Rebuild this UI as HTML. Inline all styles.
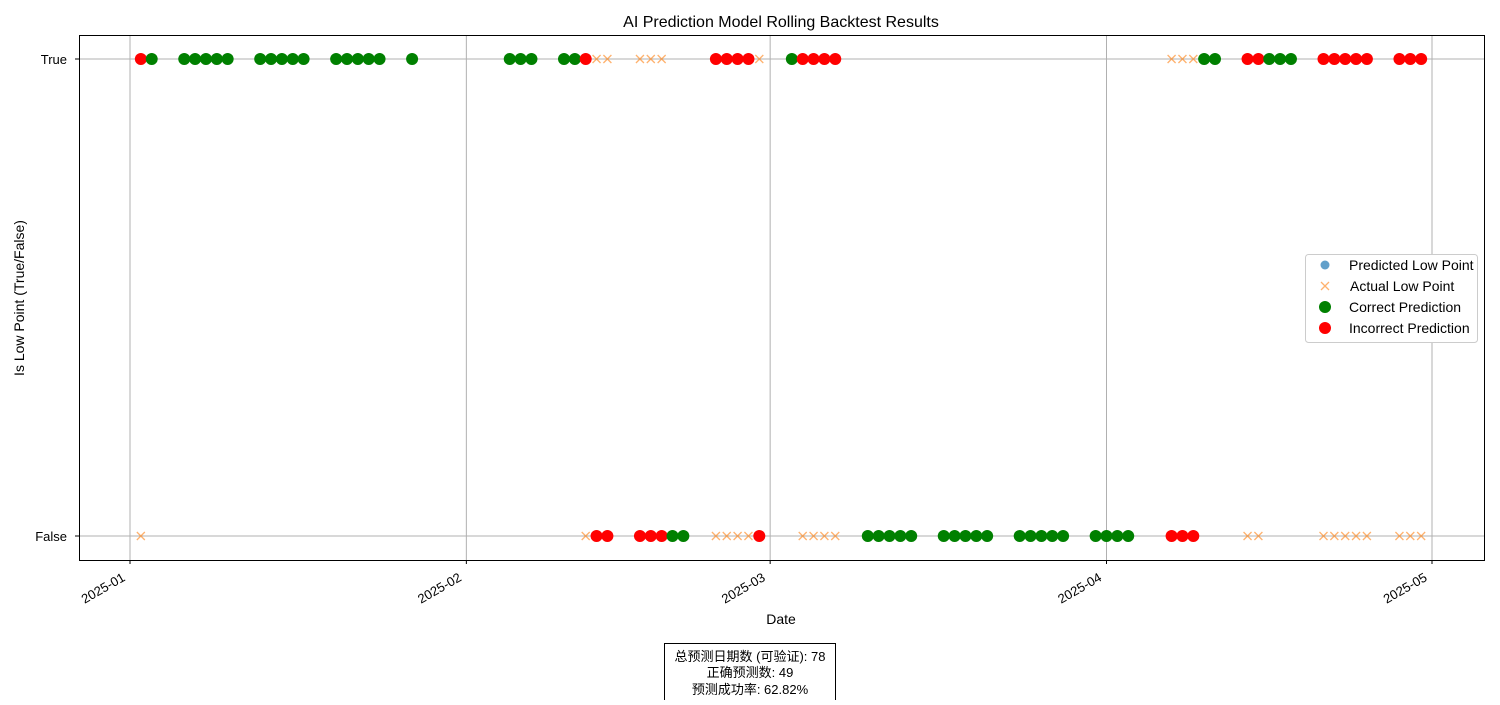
<!DOCTYPE html>
<html><head><meta charset="utf-8"><style>
body{margin:0;background:#fff;}
svg text{font-family:"Liberation Sans","Noto Sans CJK SC",sans-serif;}
</style></head><body>
<svg id="c" width="1500" height="700" xmlns="http://www.w3.org/2000/svg">
<rect width="1500" height="700" fill="#fff"/>
<text x="781" y="27" font-size="16" text-anchor="middle">AI Prediction Model Rolling Backtest Results</text>
<g id="grid"></g>
<g id="marks"></g>
<rect x="79.5" y="35.5" width="1405" height="525" fill="none" stroke="#000" stroke-width="1"/>
<g id="axes"></g>
<text x="781" y="624" font-size="14" text-anchor="middle">Date</text>
<text transform="translate(24,298) rotate(-90)" font-size="14" text-anchor="middle">Is Low Point (True/False)</text>
<g>
<rect x="1305.5" y="254.5" width="172" height="88" rx="3" fill="#fff" stroke="#ccc"/>
<g><circle cx="1325" cy="265" r="4.5" fill="#1f77b4" fill-opacity="0.7"/><text x="1349" y="270" font-size="14">Predicted Low Point</text></g>
<g><path d="M1321 282l8 8M1329 282l-8 8" stroke="#ff7f0e" stroke-opacity="0.6" stroke-width="1.3"/><text x="1350" y="291" font-size="14">Actual Low Point</text></g>
<g><circle cx="1325" cy="307" r="6" fill="green"/><text x="1349" y="312" font-size="14">Correct Prediction</text></g>
<g><circle cx="1325" cy="328" r="6" fill="red"/><text x="1349" y="333" font-size="14">Incorrect Prediction</text></g>
</g>
<g>
<rect x="664.5" y="643.5" width="171" height="62" fill="#fff" stroke="#000"/>
<text x="750" y="661" font-size="13" text-anchor="middle">总预测日期数 (可验证): 78</text>
<text x="750" y="677" font-size="13" text-anchor="middle">正确预测数: 49</text>
<text x="750" y="694" font-size="13" text-anchor="middle">预测成功率: 62.82%</text>
</g>
</svg>
<script>
// day offsets from 2025-01-01
const days=[1,2,5,6,7,8,9,12,13,14,15,16,19,20,21,22,23,26,35,36,37,40,41,42,43,44,47,48,49,50,51,54,55,56,57,58,61,62,63,64,65,68,69,70,71,72,75,76,77,78,79,82,83,84,85,86,89,90,91,92,96,97,98,99,100,103,104,105,106,107,110,111,112,113,114,117,118,119];
const predicted=[1,1,1,1,1,1,1,1,1,1,1,1,1,1,1,1,1,1,1,1,1,1,1,1,0,0,0,0,0,0,0,1,1,1,1,0,1,1,1,1,1,0,0,0,0,0,0,0,0,0,0,0,0,0,0,0,0,0,0,0,0,0,0,1,1,1,1,1,1,1,1,1,1,1,1,1,1,1];
const actual=[0,1,1,1,1,1,1,1,1,1,1,1,1,1,1,1,1,1,1,1,1,1,1,0,1,1,1,1,1,0,0,0,0,0,0,1,1,0,0,0,0,0,0,0,0,0,0,0,0,0,0,0,0,0,0,0,0,0,0,0,1,1,1,1,1,0,0,1,1,1,0,0,0,0,0,0,0,0];
const tickDays=[0,31,59,90,120];
const tickLabels=["2025-01","2025-02","2025-03","2025-04","2025-05"];
const yVals=[0,1];const yLabels=["False","True"];
const NS="http://www.w3.org/2000/svg";
const x=d=>130+d*(1432-130)/120;
const y=v=>536-v*(536-59);
function mk(t,a,p){const e=document.createElementNS(NS,t);for(const k in a)e.setAttribute(k,a[k]);p.appendChild(e);return e;}
const grid=document.getElementById('grid'),axes=document.getElementById('axes'),marks=document.getElementById('marks');
tickDays.forEach((d,i)=>{
 const g=mk('line',{x1:x(d),x2:x(d),y1:36,y2:560,stroke:'#b0b0b0','stroke-width':1},grid);
 
 
 mk('line',{x1:x(d),x2:x(d),y1:560,y2:564,stroke:'#000'},axes);
 const tx=x(d)-4, ty=580;
 const t=mk('text',{x:tx,y:ty,'font-size':13,'text-anchor':'end',transform:`rotate(-30 ${tx} ${ty})`},axes);
 t.textContent=tickLabels[i];
 
 
});
yVals.forEach((v,i)=>{
 const g=mk('line',{x1:80,x2:1484,y1:y(v),y2:y(v),stroke:'#b0b0b0','stroke-width':1},grid);
 
 
 mk('line',{x1:75,x2:79,y1:y(v),y2:y(v),stroke:'#000'},axes);
 const t=mk('text',{x:67,y:y(v)+5,'font-size':13,'text-anchor':'end'},axes);
 t.textContent=yLabels[i];
 
 
});
days.forEach((d,i)=>{
 const cx=x(d);
 const p=mk('circle',{cx:cx,cy:y(predicted[i]),r:4.5,fill:'#1f77b4','fill-opacity':0.7},marks);
 
 
 const ay=y(actual[i]);
 const a=mk('path',{d:`M${cx-4} ${ay-4}l8 8M${cx+4} ${ay-4}l-8 8`,stroke:'#ff7f0e','stroke-opacity':0.6,'stroke-width':1.3,fill:'none'},marks);
 
 
});
days.forEach((d,i)=>{
 const ok=predicted[i]===actual[i];
 const c=mk('circle',{cx:x(d),cy:y(predicted[i]),r:6,fill:ok?'green':'red'},marks);
 
 
});
</script>
</body></html>
